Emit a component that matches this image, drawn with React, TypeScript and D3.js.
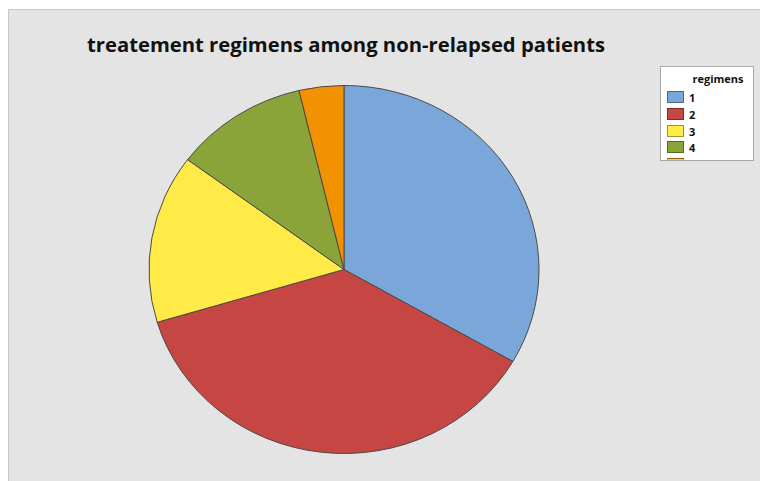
import React from "react";
import * as d3 from "d3";

const categories = ["1", "2", "3", "4", "5"];
const counts = [9, 10, 4, 3, 1];
const colors = ["#7BA6DA", "#C64643", "#FFEA48", "#8BA43A", "#F39200"];
const title = "treatement regimens among non-relapsed patients";
const legendTitle = "regimens";

const W = 760;
const H = 481;

export default function App() {
  const cx = 344;
  const cy = 269.5;
  const rx = 195;
  const ry = 184;
  const pie = d3.pie<number>().sort(null).value((d) => d);
  const arcs = pie(counts);
  const arc = d3.arc<d3.PieArcDatum<number>>().innerRadius(0).outerRadius(rx);

  const legX = 660;
  const legY = 66;
  const legW = 93;
  const legH = 94;

  return (
    <svg
      width={W}
      height={H}
      style={{ position: "absolute", left: 0, top: 0, background: "#ffffff" }}
      fontFamily="'Open Sans', 'Noto Sans', sans-serif"
    >
      <rect x={8.5} y={9.5} width={W} height={H} fill="#e4e4e4" stroke="#c8c8c8" />
      <text
        x={87}
        y={52}
        fontSize={19}
        fontWeight="bold"
        fill="#111"
        textLength={518}
        lengthAdjust="spacingAndGlyphs"
      >
        {title}
      </text>
      <g transform={`translate(${cx},${cy}) scale(1,${ry / rx})`}>
        {arcs.map((a, i) => (
          <path
            key={categories[i]}
            d={arc(a) || ""}
            fill={colors[i]}
            stroke="#4a4a4a"
            strokeWidth={1}
            vectorEffect="non-scaling-stroke"
          />
        ))}
      </g>
      <defs>
        <clipPath id="legclip">
          <rect x={legX} y={legY} width={legW} height={legH - 0.5} />
        </clipPath>
      </defs>
      <rect x={legX + 0.5} y={legY + 0.5} width={legW} height={legH} fill="#ffffff" stroke="#a8a8a8" />
      <g clipPath="url(#legclip)">
        <text x={legX + 58} y={legY + 17} fontSize={11} fontWeight="bold" textAnchor="middle" fill="#111">
          {legendTitle}
        </text>
        {categories.map((c, i) => {
          const y = Math.round(legY + 25 + i * 16.75);
          return (
            <g key={c}>
              <rect
                x={legX + 7.5}
                y={y + 0.5}
                width={16}
                height={11}
                fill={colors[i]}
                stroke={(d3.color(colors[i]) as d3.RGBColor).darker(1.3).formatHex()}
              />
              <text x={legX + 29} y={y + 10.5} fontSize={11} fontWeight="bold" fill="#111">
                {c}
              </text>
            </g>
          );
        })}
      </g>
      <rect x={legX + 0.5} y={legY + 0.5} width={legW} height={legH} fill="none" stroke="#a8a8a8" />
    </svg>
  );
}
